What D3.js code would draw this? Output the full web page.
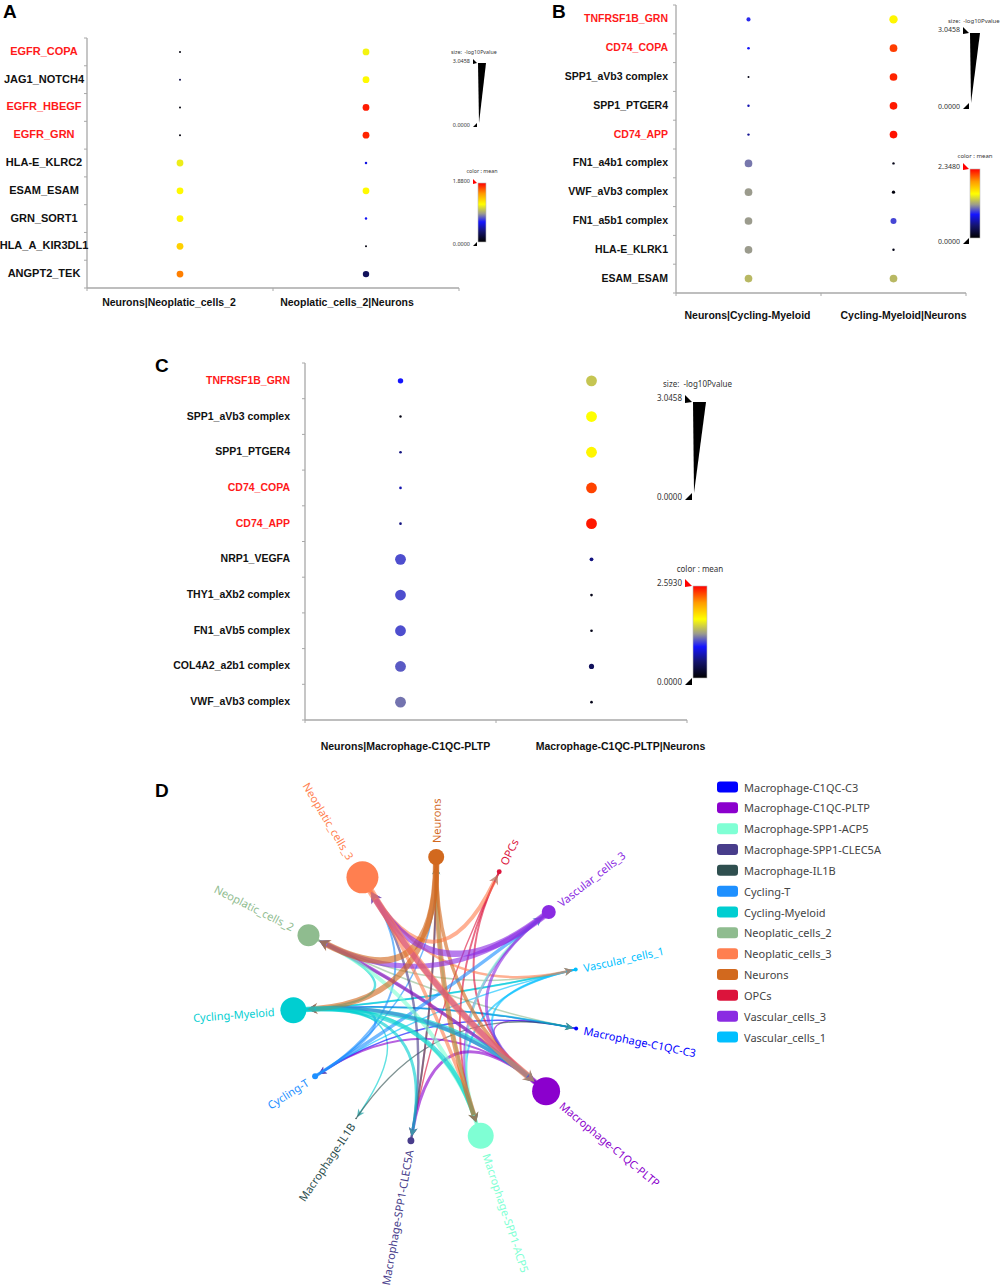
<!DOCTYPE html>
<html><head><meta charset="utf-8">
<script src="https://cdn.jsdelivr.net/npm/d3@7"></script>
<style>body{margin:0;background:#fff} svg{display:block}</style>
</head><body>
<svg id="fig" width="1003" height="1285"></svg>
<script>
// ================= DATA =================
const SIZE_MAX = 3.0458;            // -log10(Pvalue) legend max

// ---- Panel A
const rowsA = ["EGFR_COPA","JAG1_NOTCH4","EGFR_HBEGF","EGFR_GRN","HLA-E_KLRC2","ESAM_ESAM","GRN_SORT1","HLA_A_KIR3DL1","ANGPT2_TEK"];
const redA  = ["EGFR_COPA","EGFR_HBEGF","EGFR_GRN"];
const colsA = ["Neurons|Neoplatic_cells_2","Neoplatic_cells_2|Neurons"];
const pvalA1 = [0, 0, 0, 0, 3.0458, 3.0458, 3.0458, 3.0458, 3.0458];
const pvalA2 = [3.0458, 3.0458, 3.0458, 3.0458, 0.3, 3.0458, 0.3, 0, 2.8];
const meanA1 = [0.04, 0.23, 0.04, 0.04, 1.15, 1.22, 1.24, 1.36, 1.60];
const meanA2 = [1.17, 1.22, 1.82, 1.80, 0.58, 1.22, 0.62, 0.05, 0.28];
const meanMaxA = 1.8800;

// ---- Panel B
const rowsB = ["TNFRSF1B_GRN","CD74_COPA","SPP1_aVb3 complex","SPP1_PTGER4","CD74_APP","FN1_a4b1 complex","VWF_aVb3 complex","FN1_a5b1 complex","HLA-E_KLRK1","ESAM_ESAM"];
const redB  = ["TNFRSF1B_GRN","CD74_COPA","CD74_APP"];
const colsB = ["Neurons|Cycling-Myeloid","Cycling-Myeloid|Neurons"];
const pvalB1 = [1.0, 0.3, 0, 0.2, 0.2, 2.7, 2.7, 2.7, 2.7, 2.7];
const pvalB2 = [3.0458, 2.7, 2.7, 2.7, 2.7, 0.2, 0.6, 1.9, 0.2, 2.7];
const meanB1 = [0.85, 0.78, 0.09, 0.60, 0.52, 1.04, 1.13, 1.13, 1.13, 1.24];
const meanB2 = [1.54, 2.18, 2.25, 2.28, 2.30, 0.09, 0.05, 0.92, 0.09, 1.24];
const meanMaxB = 2.3480;

// ---- Panel C
const rowsC = ["TNFRSF1B_GRN","SPP1_aVb3 complex","SPP1_PTGER4","CD74_COPA","CD74_APP","NRP1_VEGFA","THY1_aXb2 complex","FN1_aVb5 complex","COL4A2_a2b1 complex","VWF_aVb3 complex"];
const redC  = ["TNFRSF1B_GRN","CD74_COPA","CD74_APP"];
const colsC = ["Neurons|Macrophage-C1QC-PLTP","Macrophage-C1QC-PLTP|Neurons"];
const pvalC1 = [1.1, 0, 0.1, 0.1, 0.1, 3.0458, 3.0458, 3.0458, 3.0458, 3.0458];
const pvalC2 = [3.0458, 3.0458, 3.0458, 3.0458, 3.0458, 0.5, 0.1, 0.1, 1.0, 0.1];
const meanC1 = [0.88, 0.08, 0.52, 0.65, 0.52, 1.04, 1.04, 1.04, 1.07, 1.14];
const meanC2 = [1.42, 1.66, 1.70, 2.39, 2.52, 0.52, 0.10, 0.10, 0.39, 0.10];
const meanMaxC = 2.5930;

// ---- Panel D (cell-cell communication network)
const nodeNames = ["Macrophage-C1QC-C3","Macrophage-C1QC-PLTP","Macrophage-SPP1-ACP5","Macrophage-SPP1-CLEC5A","Macrophage-IL1B","Cycling-T","Cycling-Myeloid","Neoplatic_cells_2","Neoplatic_cells_3","Neurons","OPCs","Vascular_cells_3","Vascular_cells_1"];
const nodeWeight = [40, 1960, 1690, 120, 5, 90, 1690, 1210, 2560, 640, 60, 490, 40];
const edges = [
 ["Neurons","Neoplatic_cells_2",6],
 ["Neurons","Cycling-Myeloid",5],
 ["Neurons","Macrophage-SPP1-ACP5",4.5],
 ["Neurons","Macrophage-C1QC-PLTP",3],
 ["Neurons","Macrophage-SPP1-CLEC5A",1.5],
 ["Neoplatic_cells_3","OPCs",3.5],
 ["Neoplatic_cells_3","Vascular_cells_1",2],
 ["Neoplatic_cells_3","Macrophage-C1QC-PLTP",6.5],
 ["Neoplatic_cells_3","Macrophage-SPP1-ACP5",3],
 ["Vascular_cells_3","Neoplatic_cells_3",6],
 ["Vascular_cells_3","Neoplatic_cells_2",4.5],
 ["Vascular_cells_3","Macrophage-C1QC-PLTP",2.5],
 ["Vascular_cells_3","Macrophage-SPP1-ACP5",2],
 ["Macrophage-C1QC-PLTP","Neoplatic_cells_3",5],
 ["Macrophage-C1QC-PLTP","Neoplatic_cells_2",3],
 ["Macrophage-C1QC-PLTP","Macrophage-SPP1-CLEC5A",2.5],
 ["Macrophage-C1QC-PLTP","Cycling-Myeloid",3],
 ["Macrophage-C1QC-PLTP","Cycling-T",1.5],
 ["Macrophage-C1QC-PLTP","Macrophage-C1QC-C3",1],
 ["Cycling-Myeloid","Macrophage-C1QC-PLTP",5],
 ["Cycling-Myeloid","Macrophage-SPP1-ACP5",4],
 ["Cycling-Myeloid","Macrophage-SPP1-CLEC5A",2.5],
 ["Cycling-Myeloid","Macrophage-IL1B",1],
 ["Cycling-Myeloid","Vascular_cells_1",1.5],
 ["Cycling-Myeloid","Macrophage-C1QC-C3",1.5],
 ["Cycling-Myeloid","Neoplatic_cells_2",2],
 ["Cycling-T","Vascular_cells_3",3],
 ["Cycling-T","Neoplatic_cells_3",1.5],
 ["Cycling-T","Cycling-Myeloid",2],
 ["Cycling-T","Neurons",1],
 ["Neoplatic_cells_2","Macrophage-C1QC-PLTP",2],
 ["Neoplatic_cells_2","Macrophage-C1QC-C3",1],
 ["Neoplatic_cells_2","Vascular_cells_1",1],
 ["Macrophage-SPP1-ACP5","Neoplatic_cells_2",3.5],
 ["Macrophage-SPP1-ACP5","Cycling-Myeloid",2.5],
 ["Macrophage-SPP1-ACP5","Vascular_cells_3",2],
 ["Macrophage-SPP1-ACP5","Neurons",2],
 ["OPCs","Macrophage-SPP1-ACP5",1.5],
 ["OPCs","Macrophage-C1QC-PLTP",1.5],
 ["OPCs","Macrophage-SPP1-CLEC5A",1],
 ["Vascular_cells_1","Macrophage-C1QC-PLTP",1.5],
 ["Vascular_cells_1","Macrophage-SPP1-ACP5",1.5],
 ["Vascular_cells_1","Cycling-T",1],
 ["Vascular_cells_1","Cycling-Myeloid",1],
 ["Macrophage-SPP1-CLEC5A","Neoplatic_cells_3",2],
 ["Macrophage-SPP1-CLEC5A","Neurons",1.5],
 ["Macrophage-C1QC-C3","Cycling-T",1],
 ["Macrophage-C1QC-C3","Cycling-Myeloid",1],
 ["Macrophage-IL1B","Macrophage-C1QC-C3",1]
];

// ================= STYLE =================
const nodeColors = ["#0000ff","#8b00cd","#7fffd4","#483d8b","#2f4f4f","#1e90ff","#00ced1","#8fbc8f","#ff7f50","#d2691e","#dc143c","#8a2be2","#00bfff"];
const colorStops = [0, .18, .34, .48, .64, .82, 1];
const colorRange = ["#000000","#14146e","#1414ff","#9a9a8e","#ffff00","#ff9a00","#ff0000"];
const BOLD = "'Liberation Sans', Arial, sans-serif";
const SANS = "'Noto Sans', 'Open Sans', sans-serif";

const svg = d3.select("#fig");
svg.append("rect").attr("width",1003).attr("height",1285).attr("fill","#fff");
const defs = svg.append("defs");

function dotPanel(p) {
  let g = svg.append("g");
  if (p.clipW) {
    defs.append("clipPath").attr("id", p.id + "clip").append("rect")
      .attr("x", 0).attr("y", 0).attr("width", p.clipW).attr("height", 1285);
    g.attr("clip-path", `url(#${p.id}clip)`);
  }
  const y = d3.scaleBand().domain(p.rows).range([p.y0, p.y1]);
  const x = d3.scaleBand().domain(p.cols).range([p.x0, p.x1]);
  const r = d3.scaleLinear().domain([0, SIZE_MAX]).range([p.rmin, p.rmax]);
  const c = d3.scaleLinear().domain(colorStops.map(s => s * p.meanMax)).range(colorRange).clamp(true);
  const ax = "#a8a8a8";

  // axes
  g.append("line").attr("x1", p.x0).attr("x2", p.x0).attr("y1", p.y0).attr("y2", p.y1)
    .attr("stroke", ax).attr("stroke-width", 1.3);
  g.append("line").attr("x1", p.x0).attr("x2", p.x1).attr("y1", p.y1).attr("y2", p.y1)
    .attr("stroke", ax).attr("stroke-width", 1.3);
  const yb = p.rows.map(d => y(d)).concat([p.y1]);
  g.selectAll(null).data(yb).join("line")
    .attr("x1", p.x0 - 3).attr("x2", p.x0).attr("y1", d => d).attr("y2", d => d)
    .attr("stroke", ax).attr("stroke-width", 1);
  const xb = p.cols.map(d => x(d)).concat([p.x1]);
  g.selectAll(null).data(xb).join("line")
    .attr("x1", d => d).attr("x2", d => d).attr("y1", p.y1).attr("y2", p.y1 + 3)
    .attr("stroke", ax).attr("stroke-width", 1);

  // dots
  const pts = [];
  p.rows.forEach((row, i) => p.cols.forEach((col, j) => {
    pts.push({row, col, s: p.pval[j][i], m: p.mean[j][i]});
  }));
  g.selectAll(null).data(pts).join("circle")
    .attr("cx", d => x(d.col) + x.bandwidth() / 2)
    .attr("cy", d => y(d.row) + y.bandwidth() / 2)
    .attr("r", d => r(d.s))
    .attr("fill", d => c(d.m));

  // row labels
  g.selectAll(null).data(p.rows).join("text")
    .attr("x", p.labelX).attr("y", d => y(d) + y.bandwidth() / 2 - 1)
    .attr("text-anchor", p.labelAnchor).attr("dominant-baseline", "central")
    .attr("font-family", BOLD).attr("font-weight", "bold").attr("font-size", p.labelSize)
    .attr("fill", d => p.red.includes(d) ? "#ff1a1a" : "#111")
    .text(d => d);

  // column labels
  g.selectAll(null).data(p.cols).join("text")
    .attr("x", (d, i) => x(d) + x.bandwidth() / 2 + p.colDx[i]).attr("y", p.colLabelY)
    .attr("text-anchor", "middle").attr("dominant-baseline", "central")
    .attr("font-family", BOLD).attr("font-weight", "bold").attr("font-size", p.colSize)
    .attr("fill", "#111").text(d => d);

  // panel letter
  svg.append("text").attr("x", p.letter[0]).attr("y", p.letter[1])
    .attr("font-family", BOLD).attr("font-weight", "bold").attr("font-size", 19)
    .attr("fill", "#000").text(p.letter[2]);

  // legends
  const L = p.legend, f = L.font, m = L.mark;
  const tx = "#333";
  g.append("text").attr("x", L.titleX).attr("y", L.sizeTitleY).attr("dominant-baseline", "central")
    .attr("font-family", SANS).attr("font-size", L.titleFont).attr("fill", tx)
    .attr("xml:space", "preserve").text("size:  -log10Pvalue");
  g.append("text").attr("x", L.wx - m - 4).attr("y", L.sTop - m * 0.6).attr("text-anchor", "end")
    .attr("dominant-baseline", "central").attr("font-family", SANS).attr("font-size", f).attr("fill", tx)
    .text(SIZE_MAX.toFixed(4));
  g.append("text").attr("x", L.wx - m - 4).attr("y", L.sBot + m * 0.5).attr("text-anchor", "end")
    .attr("dominant-baseline", "central").attr("font-family", SANS).attr("font-size", f).attr("fill", tx)
    .text((0).toFixed(4));
  const markTop = (yy, col) => g.append("path")
    .attr("d", `M${L.wx - m - 1},${yy - m} L${L.wx - 1},${yy} L${L.wx - m - 1},${yy + 1} Z`).attr("fill", col);
  const markBot = (yy, col) => g.append("path")
    .attr("d", `M${L.wx - m - 1},${yy + m} L${L.wx - 1},${yy} L${L.wx - 1},${yy + m} Z`).attr("fill", col);
  markTop(L.sTop, "#000"); markBot(L.sBot, "#000");
  g.append("path").attr("d", `M${L.wx},${L.sTop} L${L.wx + L.ww},${L.sTop} L${L.wx + 1},${L.sBot} Z`).attr("fill", "#000");

  // color bar
  const gid = p.id + "grad";
  const lg = defs.append("linearGradient").attr("id", gid).attr("x1", 0).attr("x2", 0).attr("y1", 1).attr("y2", 0);
  colorStops.forEach((s, i) => lg.append("stop").attr("offset", s).attr("stop-color", colorRange[i]));
  g.append("text").attr("x", L.wx + L.bw / 2).attr("y", L.colTitleY).attr("text-anchor", "middle")
    .attr("dominant-baseline", "central").attr("font-family", SANS).attr("font-size", L.titleFont).attr("fill", tx)
    .text("color : mean");
  g.append("text").attr("x", L.wx - m - 4).attr("y", L.bTop - m * 0.5).attr("text-anchor", "end")
    .attr("dominant-baseline", "central").attr("font-family", SANS).attr("font-size", f).attr("fill", tx)
    .text(p.meanMax.toFixed(4));
  g.append("text").attr("x", L.wx - m - 4).attr("y", L.bBot + m * 0.5).attr("text-anchor", "end")
    .attr("dominant-baseline", "central").attr("font-family", SANS).attr("font-size", f).attr("fill", tx)
    .text((0).toFixed(4));
  g.append("rect").attr("x", L.wx).attr("y", L.bTop).attr("width", L.bw).attr("height", L.bBot - L.bTop)
    .attr("fill", `url(#${gid})`).attr("stroke", "#bbb").attr("stroke-width", 0.6);
  markTop(L.bTop, "#ff0000"); markBot(L.bBot, "#000");
}

dotPanel({
  id: "A", rows: rowsA, cols: colsA, red: redA, pval: [pvalA1, pvalA2], mean: [meanA1, meanA2], meanMax: meanMaxA,
  x0: 87, x1: 459, y0: 38, y1: 288, rmin: 1.0, rmax: 3.4,
  labelX: 44, labelAnchor: "middle", labelSize: 11, colLabelY: 302, colDx: [-11, -19], colSize: 10.5,
  letter: [3, 18, "A"], clipW: 500,
  legend: {font: 5.5, titleFont: 5.3, mark: 4, titleX: 451, sizeTitleY: 52, wx: 478, ww: 8, sTop: 63, sBot: 123,
           colTitleY: 171, bw: 8, bTop: 183, bBot: 242}
});
dotPanel({
  id: "B", rows: rowsB, cols: colsB, red: redB, pval: [pvalB1, pvalB2], mean: [meanB1, meanB2], meanMax: meanMaxB,
  x0: 676, x1: 966, y0: 5, y1: 293, rmin: 1.0, rmax: 4.2,
  labelX: 668, labelAnchor: "end", labelSize: 10.5, colLabelY: 315, colDx: [-1, 10], colSize: 10.5,
  letter: [552, 18, "B"],
  legend: {font: 7, titleFont: 6, mark: 6, titleX: 948, sizeTitleY: 21, wx: 970, ww: 10, sTop: 33, sBot: 103,
           colTitleY: 156, bw: 10, bTop: 169, bBot: 238}
});
dotPanel({
  id: "C", rows: rowsC, cols: colsC, red: redC, pval: [pvalC1, pvalC2], mean: [meanC1, meanC2], meanMax: meanMaxC,
  x0: 305, x1: 687, y0: 363, y1: 720, rmin: 1.2, rmax: 5.4,
  labelX: 290, labelAnchor: "end", labelSize: 10.5, colLabelY: 746, colDx: [5, 29], colSize: 10.5,
  letter: [155, 372, "C"],
  legend: {font: 8, titleFont: 8, mark: 7, titleX: 663, sizeTitleY: 383, wx: 693, ww: 13, sTop: 402, sBot: 493,
           colTitleY: 568, bw: 14, bTop: 586, bBot: 678}
});

// ================= PANEL D =================
(function () {
  const cx = 436, cy = 1000, R = 143, startDeg = 11.5, k = 0.9;
  const rScale = d3.scaleSqrt().domain([0, d3.max(nodeWeight)]).range([0, 16]);
  const radii = nodeWeight.map(rScale);
  const n = nodeNames.length;
  const pad = (2 * Math.PI * R - 2 * k * d3.sum(radii)) / n;
  const nodes = [];
  let ang = startDeg * Math.PI / 180;
  nodeNames.forEach((name, i) => {
    if (i > 0) ang += (pad + k * (radii[i - 1] + radii[i])) / R;
    nodes.push({name, r: radii[i], color: nodeColors[i], a: ang,
                x: cx + R * Math.cos(ang), y: cy + R * Math.sin(ang)});
  });
  const byName = new Map(nodes.map(d => [d.name, d]));
  const wScale = d3.scaleLinear().domain([0, 6]).range([0.4, 6.5]);
  const g = svg.append("g");

  const sorted = edges.slice().sort((a, b) => a[2] - b[2]);
  sorted.forEach(([s, t, w]) => {
    const S = byName.get(s), T = byName.get(t);
    const sw = wScale(w);
    let ux = T.x - cx, uy = T.y - cy; let ul = Math.hypot(ux, uy); ux /= ul; uy /= ul;
    let vx = cx - S.x, vy = cy - S.y; let vl = Math.hypot(vx, vy); vx /= vl; vy /= vl;
    const L = 7 + sw * 0.6, hw = 3 + sw * 0.5;
    const tipX = T.x - ux * (T.r + 1), tipY = T.y - uy * (T.r + 1);
    const bx = tipX - ux * L, by = tipY - uy * L;
    const sx = S.x + vx * S.r * 0.6, sy = S.y + vy * S.r * 0.6;
    const path = d3.path();
    path.moveTo(sx, sy);
    path.quadraticCurveTo(cx, cy, bx + ux * 2, by + uy * 2);
    g.append("path").attr("d", path.toString()).attr("fill", "none")
      .attr("stroke", S.color).attr("stroke-width", sw).attr("stroke-opacity", 0.62)
      .attr("stroke-linecap", "butt");
    const px = -uy, py = ux;
    g.append("path")
      .attr("d", `M${tipX},${tipY} L${bx + px * hw},${by + py * hw} L${bx + ux * L * 0.3},${by + uy * L * 0.3} L${bx - px * hw},${by - py * hw} Z`)
      .attr("fill", d3.interpolateRgb(S.color, "#6b7b80")(0.45)).attr("fill-opacity", 0.8);
  });

  g.selectAll(null).data(nodes).join("circle")
    .attr("cx", d => d.x).attr("cy", d => d.y).attr("r", d => Math.max(d.r, 0.8)).attr("fill", d => d.color);

  g.selectAll(null).data(nodes).join("text")
    .attr("transform", d => {
      const off = d.r + 6;
      const px = d.x + Math.cos(d.a) * off, py = d.y + Math.sin(d.a) * off;
      const deg = d.a * 180 / Math.PI;
      return `translate(${px},${py}) rotate(${Math.cos(d.a) > 0 ? deg : deg + 180})`;
    })
    .attr("text-anchor", d => Math.cos(d.a) > 0 ? "start" : "end")
    .attr("dominant-baseline", "central")
    .attr("font-family", SANS).attr("font-size", 11)
    .attr("fill", d => d.color).text(d => d.name);

  svg.append("text").attr("x", 155).attr("y", 797)
    .attr("font-family", BOLD).attr("font-weight", "bold").attr("font-size", 19).text("D");

  // legend
  const ly = d3.scalePoint().domain(nodeNames).range([787, 1037]);
  const lg = svg.append("g");
  lg.selectAll(null).data(nodes).join("rect")
    .attr("x", 717).attr("y", d => ly(d.name) - 5.5).attr("width", 21).attr("height", 11).attr("rx", 3)
    .attr("fill", d => d.color);
  lg.selectAll(null).data(nodes).join("text")
    .attr("x", 744).attr("y", d => ly(d.name)).attr("dominant-baseline", "central")
    .attr("font-family", SANS).attr("font-size", 11).attr("fill", "#444").text(d => d.name);
})();
</script>
</body></html>
